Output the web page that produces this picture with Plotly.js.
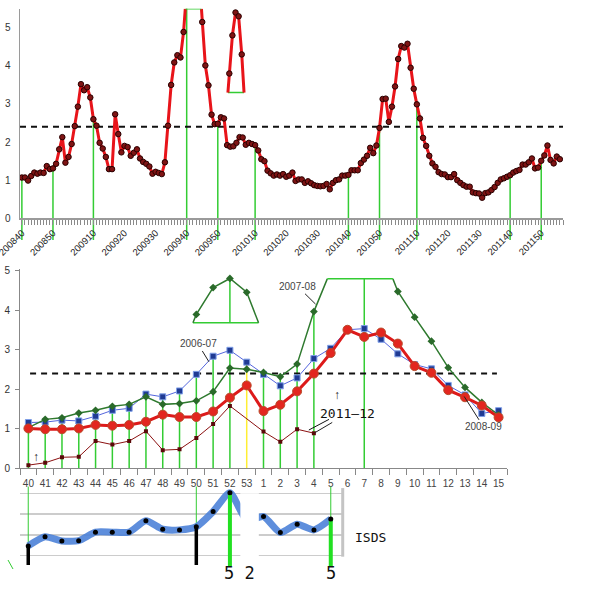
<!DOCTYPE html>
<html>
<head>
<meta charset="utf-8">
<script src="https://cdn.plot.ly/plotly-3.0.1.min.js"></script>
<style>
  body { margin: 0; background: #fff; }
  #chart { width: 600px; height: 600px; }
</style>
</head>
<body>
<div id="chart"></div>
<script>
// weekly rate, one value per week, index 0 = 200840 .. index 173 = 201204
const weeklyRate = [
  1.07, 1.07, 0.99, 1.11, 1.20, 1.17, 1.20, 1.19, 1.37, 1.29,
  1.31, 1.43, 1.81, 2.13, 1.46, 1.61, 1.95, 2.42, 2.93, 3.52,
  3.36, 3.44, 3.17, 2.60, 2.43, 1.98, 1.83, 1.61, 1.29, 1.29,
  2.73, 2.21, 1.73, 1.90, 1.87, 1.64, 1.72, 1.81, 1.57, 1.48,
  1.43, 1.36, 1.17, 1.22, 1.19, 1.16, 1.47, 2.43, 3.50, 4.09,
  4.28, 4.22, 4.89, 6.00, 7.00, 7.60, 7.50, 6.50, 5.15, 4.01,
  3.49, 2.72, 2.47, 2.48, 2.65, 2.62, 1.92, 1.88, 1.89, 1.98,
  2.13, 2.12, 1.93, 1.98, 1.95, 1.92, 1.78, 1.55, 1.50, 1.25,
  1.18, 1.12, 1.15, 1.12, 1.16, 1.09, 1.12, 1.20, 0.98, 1.02,
  1.02, 0.93, 0.97, 0.92, 0.87, 0.85, 0.84, 0.85, 0.90, 0.76,
  0.93, 1.00, 1.02, 1.12, 1.12, 1.14, 1.26, 1.26, 1.26, 1.45,
  1.54, 1.64, 1.85, 1.71, 1.91, 2.37, 3.13, 3.14, 2.53, 2.93,
  3.46, 4.18, 4.52, 4.48, 4.58, 3.95, 3.40, 2.99, 2.62, 2.11,
  1.90, 1.64, 1.44, 1.35, 1.21, 1.16, 1.15, 1.08, 1.08, 1.16,
  1.00, 0.93, 0.87, 0.83, 0.83, 0.68, 0.66, 0.65, 0.54, 0.66,
  0.68, 0.74, 0.82, 0.93, 1.02, 1.05, 1.09, 1.13, 1.20, 1.24,
  1.27, 1.41, 1.41, 1.47, 1.57, 1.31, 1.33, 1.51, 1.65, 1.91,
  1.53, 1.44, 1.62, 1.55
];
const topTickIdx = [0, 10, 23, 33, 43, 53, 63, 75, 85, 95, 105, 115, 127, 137, 147, 157, 167];
const topTickLabels = ['200840', '200850', '200910', '200920', '200930', '200940', '200950', '201010',
  '201020', '201030', '201040', '201050', '201110', '201120', '201130', '201140', '201150'];
const topMarkWeeks = [0, 10, 23, 53, 63, 75, 105, 115, 127, 157, 167];

// season comparison, weeks 40 .. 15
const weeks = ['40', '41', '42', '43', '44', '45', '46', '47', '48', '49', '50', '51', '52', '53',
  '1', '2', '3', '4', '5', '6', '7', '8', '9', '10', '11', '12', '13', '14', '15'];
const season0607 = [1.16, 1.17, 1.22, 1.20, 1.32, 1.47, 1.52, 1.88, 1.81, 1.96, 2.38, 2.84, 2.99, 2.69,
  2.38, 2.09, 2.29, 2.78, 3.04, 3.51, 3.54, 3.27, 2.90, 2.63, 2.52, 2.10, 1.86, 1.39, 1.46];
const season0708 = [1.03, 1.24, 1.28, 1.40, 1.47, 1.57, 1.62, 1.81, 1.62, 1.64, 1.71, 1.94, 2.54, 2.51,
  2.43, 2.32, 2.64, 3.97, 5.01, 5.69, 5.92, 5.57, 4.48, 3.83, 3.22, 2.55, 2.05, 1.67, 1.35];
const season0809 = [1.01, 0.99, 0.99, 1.01, 1.10, 1.08, 1.10, 1.18, 1.36, 1.30, 1.30, 1.44, 1.79, 2.10,
  1.45, 1.61, 1.95, 2.40, 2.92, 3.51, 3.33, 3.44, 3.16, 2.59, 2.42, 1.98, 1.80, 1.59, 1.29];
const season1112 = [0.08, 0.14, 0.28, 0.29, 0.69, 0.60, 0.69, 0.94, 0.46, 0.48, 0.77, 1.12, 1.58, null,
  0.93, 0.67, 0.99, 0.89, null, null, null, null, null, null, null, null, null, null, null];
const markWeeks = ['40', '41', '42', '43', '44', '45', '46', '47', '48', '49', '50', '51', '52', '53',
  '1', '2', '3', '4', '7'];

// ISDS strip, weeks 40 .. 5
const isdsVals = [0.47, 0.91, 0.71, 0.72, 1.13, 1.13, 1.13, 1.68, 1.27, 1.24, 1.39, 2.12, 3.03, 1.70,
  1.88, 1.11, 1.51, 1.24, 1.76];
const isdsBlack = ['40', '50'];
const isdsGreen = ['52', '5'];
const isdsThin = ['40', '50', '5'];

const threshold = 2.4;

// ---- helpers ----
const px = v => v / 600;
const py = v => 1 - v / 600;
const topY = { dom: [py(218.3), py(8.7)], range: [0, 5.5] };
const toPaper = (v, a) => a.dom[0] + (v - a.range[0]) / (a.range[1] - a.range[0]) * (a.dom[1] - a.dom[0]);

// split a series at a cap: line below the cap, flat part at the cap, and the cut-off part
function clipAt(xs, ys, cap) {
  const line = { x: [], y: [] }, flat = { x: [], y: [] }, over = { x: [], y: [] };
  for (let i = 0; i < ys.length; i++) {
    const a = ys[i];
    if (a == null) continue;
    if (a <= cap) { line.x.push(xs[i]); line.y.push(a); }
    else { over.x.push(xs[i]); over.y.push(a); }
    const b = ys[i + 1];
    if (b == null) continue;
    if ((a > cap) !== (b > cap)) {
      const xc = xs[i] + (cap - a) / (b - a) * (xs[i + 1] - xs[i]);
      if (a <= cap) {
        line.x.push(xc, null); line.y.push(cap, null);
        flat.x.push(xc); flat.y.push(cap);
        over.x.push(xc); over.y.push(cap);
      } else {
        line.x.push(xc); line.y.push(cap);
        flat.x.push(xc, null); flat.y.push(cap, null);
        over.x.push(xc, null); over.y.push(cap, null);
      }
    }
  }
  return { line, flat, over };
}
const shift = (s, dx, dy) => ({ x: s.x.map(v => v == null ? null : v + dx), y: s.y.map(v => v == null ? null : v + dy) });

const green = '#33cc33';
const traces = [];
const shapes = [];

// ---- top panel ----
const topCap = 5.5;
const topX = weeklyRate.map((v, i) => i);
const topClip = clipAt(topX, weeklyRate, topCap);
const topIn = { dx: 13.7, dy: -2.2 };
const dot = { symbol: 'circle', size: 5.5, color: '#7e1414', line: { color: '#2a0000', width: 1 } };

topMarkWeeks.forEach(w => {
  const top = Math.min(weeklyRate[w], topCap);
  shapes.push({ type: 'line', xref: 'x', yref: 'paper', x0: w, x1: w,
    y0: toPaper(-0.57, topY), y1: toPaper(top, topY), line: { color: green, width: 1.5 }, layer: 'below' });
});

traces.push({ x: [-0.6, 174], y: [threshold, threshold], xaxis: 'x', yaxis: 'y', mode: 'lines',
  line: { color: '#111', width: 2, dash: '6px,5px' } });
traces.push({ x: topClip.line.x, y: topClip.line.y, xaxis: 'x', yaxis: 'y', mode: 'lines',
  line: { color: '#e8141a', width: 3 } });
traces.push({ x: topClip.flat.x, y: topClip.flat.y, xaxis: 'x', yaxis: 'y', mode: 'lines',
  line: { color: green, width: 1.5 } });
const topInFlat = shift(topClip.flat, topIn.dx, topIn.dy);
const topInOver = shift(topClip.over, topIn.dx, topIn.dy);
traces.push({ x: topInFlat.x, y: topInFlat.y, xaxis: 'x', yaxis: 'y', mode: 'lines',
  line: { color: green, width: 1.5 } });
traces.push({ x: topInOver.x, y: topInOver.y, xaxis: 'x', yaxis: 'y', mode: 'lines',
  line: { color: '#e8141a', width: 3 } });
const topPeak = topX.filter(i => weeklyRate[i] > topCap);
traces.push({ x: topPeak.map(i => i + topIn.dx), y: topPeak.map(i => weeklyRate[i] + topIn.dy),
  xaxis: 'x', yaxis: 'y', mode: 'markers', marker: dot });
const topShown = topX.filter(i => weeklyRate[i] <= topCap);
traces.push({ x: topShown, y: topShown.map(i => weeklyRate[i]), xaxis: 'x', yaxis: 'y', mode: 'markers',
  marker: dot });

// ---- season panel ----
const botCap = 4.8;
const wx = weeks.map((w, i) => i);
const greenClip = clipAt(wx, season0708, botCap);
const botIn = { dx: -8, dy: -1.11 };

const vx = [], vy = [];
markWeeks.forEach(w => {
  const i = weeks.indexOf(w);
  if (w === '53') return;
  const top = Math.max(season0607[i], season0809[i], Math.min(season0708[i], botCap));
  vx.push(i, i, null); vy.push(0, top, null);
});
traces.push({ x: vx, y: vy, xaxis: 'x2', yaxis: 'y2', mode: 'lines', line: { color: green, width: 1.5 } });
const i53 = weeks.indexOf('53');
traces.push({ x: [i53, i53], y: [0, Math.max(season0607[i53], season0708[i53], season0809[i53])],
  xaxis: 'x2', yaxis: 'y2', mode: 'lines', line: { color: '#ffee33', width: 1.5 } });

traces.push({ x: [0.1, 27.9], y: [threshold, threshold], xaxis: 'x2', yaxis: 'y2', mode: 'lines',
  line: { color: '#111', width: 2, dash: '6px,5px' } });

traces.push({ x: wx, y: season0607, xaxis: 'x2', yaxis: 'y2', mode: 'lines+markers',
  line: { color: '#5566dd', width: 1 },
  marker: { symbol: 'square', size: 6, color: '#1f3a93', line: { color: '#7f9fe8', width: 1 } } });

traces.push({ x: greenClip.line.x, y: greenClip.line.y, xaxis: 'x2', yaxis: 'y2', mode: 'lines',
  line: { color: '#2f7a2f', width: 1.5 } });
traces.push({ x: greenClip.flat.x, y: greenClip.flat.y, xaxis: 'x2', yaxis: 'y2', mode: 'lines',
  line: { color: green, width: 1.5 } });
const gShown = wx.filter(i => season0708[i] <= botCap);
traces.push({ x: gShown, y: gShown.map(i => season0708[i]), xaxis: 'x2', yaxis: 'y2', mode: 'markers',
  marker: { symbol: 'diamond', size: 6, color: '#2a6a2a' } });
// inset of the cut-off peak
const gInFlat = shift(greenClip.flat, botIn.dx, botIn.dy);
const gInOver = shift(greenClip.over, botIn.dx, botIn.dy);
const gPeak = wx.filter(i => season0708[i] > botCap);
const gTop = gPeak.reduce((a, b) => season0708[b] > season0708[a] ? b : a, gPeak[0]);
traces.push({ x: gInFlat.x, y: gInFlat.y, xaxis: 'x2', yaxis: 'y2', mode: 'lines',
  line: { color: green, width: 1.5 } });
traces.push({ x: [gTop + botIn.dx, gTop + botIn.dx], y: [botCap + botIn.dy, season0708[gTop] + botIn.dy],
  xaxis: 'x2', yaxis: 'y2', mode: 'lines', line: { color: green, width: 1.5 } });
traces.push({ x: gInOver.x, y: gInOver.y, xaxis: 'x2', yaxis: 'y2', mode: 'lines',
  line: { color: '#2f7a2f', width: 1.5 } });
traces.push({ x: gPeak.map(i => i + botIn.dx), y: gPeak.map(i => season0708[i] + botIn.dy),
  xaxis: 'x2', yaxis: 'y2', mode: 'markers', marker: { symbol: 'diamond', size: 6, color: '#2a6a2a' } });

traces.push({ x: wx, y: season0809, xaxis: 'x2', yaxis: 'y2', mode: 'lines+markers',
  line: { color: '#dd1a1a', width: 3 },
  marker: { symbol: 'circle', size: 9, color: '#e3261f', line: { color: '#b84a2a', width: 1 } } });

traces.push({ x: wx, y: season1112, xaxis: 'x2', yaxis: 'y2', mode: 'lines+markers', connectgaps: true,
  line: { color: '#8b1010', width: 1 },
  marker: { symbol: 'square', size: 4, color: '#5a0a0a' } });

// ---- ISDS strip ----
const sx = isdsVals.map((v, i) => i);
const thinX = [], thinY = [];
isdsThin.forEach(w => { const i = weeks.indexOf(w); thinX.push(i, i, null); thinY.push(3.32, isdsVals[i], null); });
traces.push({ x: thinX, y: thinY, xaxis: 'x3', yaxis: 'y3', mode: 'lines', line: { color: green, width: 1 } });
traces.push({ x: sx, y: isdsVals, xaxis: 'x3', yaxis: 'y3', mode: 'lines',
  line: { color: '#4d82d8', width: 7, shape: 'spline', smoothing: 0.6 }, opacity: 0.9 });
const blackX = [], blackY = [];
isdsBlack.forEach(w => { const i = weeks.indexOf(w); blackX.push(i, i, null); blackY.push(isdsVals[i], -0.45, null); });
traces.push({ x: blackX, y: blackY, xaxis: 'x3', yaxis: 'y3', mode: 'lines', line: { color: '#000', width: 3.5 } });
const gbX = [], gbY = [];
isdsGreen.forEach(w => { const i = weeks.indexOf(w); gbX.push(i, i, null); gbY.push(isdsVals[i], -0.5, null); });
traces.push({ x: gbX, y: gbY, xaxis: 'x3', yaxis: 'y3', mode: 'lines', line: { color: '#22e022', width: 4 } });
traces.push({ x: sx, y: isdsVals, xaxis: 'x3', yaxis: 'y3', mode: 'markers',
  marker: { size: 5, color: '#000' } });

// gap in the pasted strip and its right edge
shapes.push({ type: 'rect', xref: 'x3', yref: 'y3', x0: 12.62, x1: 13.72, y0: -0.2, y1: 3.0,
  fillcolor: '#fff', line: { width: 0 }, layer: 'above' });
shapes.push({ type: 'line', xref: 'paper', yref: 'y3', x0: px(342.7), x1: px(342.7), y0: -0.05, y1: 3.25,
  line: { color: '#c4c4c4', width: 3 } });
shapes.push({ type: 'line', xref: 'paper', yref: 'paper', x0: px(8), x1: px(13), y0: py(560), y1: py(569),
  line: { color: green, width: 1 } });
// second pointer of the 2011-12 label
shapes.push({ type: 'line', xref: 'x2', yref: 'y2', x0: 17.9, y0: 1.24, x1: 16.7, y1: 0.97,
  line: { color: '#111', width: 1 } });

const note = (text, x, y, ax, ay, font) => ({ xref: 'x2', yref: 'y2', axref: 'x2', ayref: 'y2',
  x, y, ax, ay, text, showarrow: true, arrowhead: 0, arrowwidth: 1, arrowcolor: '#222', standoff: 0,
  font: font || { size: 10, color: '#444' } });
const label = (text, x, y, size) => ({ xref: 'paper', yref: 'paper', x: px(x), y: py(y), text,
  showarrow: false, xanchor: 'center', yanchor: 'middle',
  font: { family: 'DejaVu Sans Mono', size, color: '#111' } });

const annotations = [
  note('2006-07', 10.75, 2.70, 10.1, 3.15),
  note('2007-08', 17.1, 4.16, 16.05, 4.6),
  note('2008-09', 25.95, 1.82, 27.1, 1.05),
  note('2011\u201312', 17.05, 0.9, 19.0, 1.39, { family: 'DejaVu Sans Mono', size: 13, color: '#111' }),
  { xref: 'x2', yref: 'y2', x: 18.36, y: 1.86, text: '\u2191', showarrow: false, font: { size: 12, color: '#222' } },
  { xref: 'x2', yref: 'y2', x: 0.46, y: 0.28, text: '\u2191', showarrow: false, font: { size: 12, color: '#222' } },
  label('5 2', 239, 573, 17),
  label('5', 330.5, 573, 17),
  label('ISDS', 370.5, 537.5, 13)
];

const layout = {
  width: 600,
  height: 600,
  margin: { l: 0, r: 0, t: 0, b: 0 },
  paper_bgcolor: '#fff',
  plot_bgcolor: 'rgba(0,0,0,0)',
  showlegend: false,
  hovermode: false,
  font: { family: 'Liberation Sans, Arial, sans-serif', size: 9, color: '#333' },
  xaxis: {
    domain: [px(20), px(563)], range: [-0.6, 174], anchor: 'y',
    tickmode: 'array', tickvals: topTickIdx, ticktext: topTickLabels, tickangle: -45,
    ticks: '', ticklabelstandoff: 4, ticklabeloverflow: 'allow',
    showline: true, linecolor: '#9a9a9a', linewidth: 1.5, showgrid: false, zeroline: false,
    tickfont: { size: 9.5, color: '#222' },
    minor: { ticks: 'outside', tickmode: 'linear', tick0: 0, dtick: 1, ticklen: 5, tickcolor: '#8a8a8a', tickwidth: 1, showgrid: false }
  },
  yaxis: {
    domain: topY.dom, range: topY.range, anchor: 'x',
    tickvals: [0, 1, 2, 3, 4, 5], ticks: '', ticklabelstandoff: 6,
    showline: true, linecolor: '#9a9a9a', linewidth: 1.5, showgrid: false, zeroline: false,
    tickfont: { size: 10, color: '#333' }
  },
  xaxis2: {
    domain: [px(20), px(507)], range: [-0.5, 28.5], anchor: 'y2',
    tickmode: 'array', tickvals: wx, ticktext: weeks, ticks: '', ticklabelstandoff: 6,
    showline: true, linecolor: '#888', showgrid: false, zeroline: false,
    tickfont: { size: 10, color: '#444' },
    minor: { ticks: 'outside', tickmode: 'linear', tick0: -0.5, dtick: 1, ticklen: 6, tickcolor: '#888', showgrid: false }
  },
  yaxis2: {
    domain: [py(468.3), py(269)], range: [0, 5.05], anchor: 'x2',
    tickvals: [0, 1, 2, 3, 4, 5], ticks: 'outside', ticklen: 4, tickcolor: '#888', ticklabelstandoff: 3,
    showline: true, linecolor: '#888', showgrid: false, zeroline: false,
    tickfont: { size: 10, color: '#333' }
  },
  xaxis3: { domain: [px(20), px(342.7)], range: [-0.49, 18.71], anchor: 'y3', visible: false },
  yaxis3: {
    domain: [py(567.1), py(486)], range: [-0.55, 3.35], anchor: 'x3',
    tickvals: [0, 1, 2, 3], showticklabels: false, ticks: '',
    showgrid: true, gridcolor: '#cccccc', gridwidth: 1.5, zeroline: false, showline: false
  },
  shapes: shapes,
  annotations: annotations
};

Plotly.newPlot('chart', traces, layout, { staticPlot: true });
</script>
</body>
</html>
